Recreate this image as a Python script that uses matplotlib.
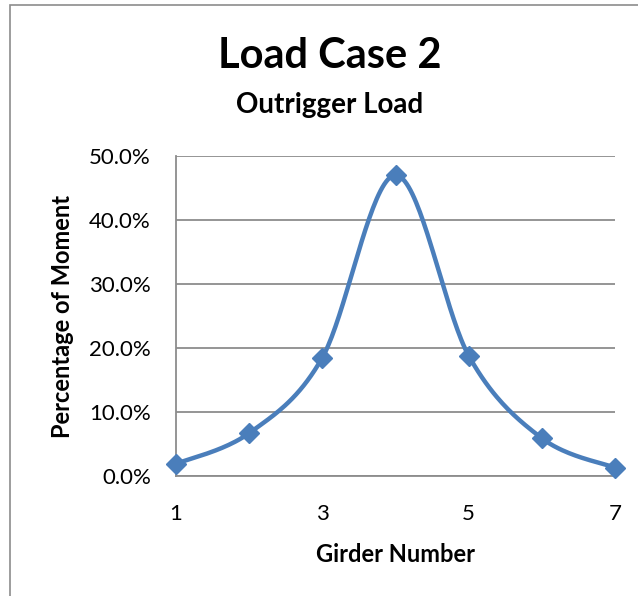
import matplotlib
matplotlib.use("Agg")
import matplotlib.pyplot as plt
import numpy as np
from matplotlib.patches import Rectangle
from matplotlib.ticker import PercentFormatter

plt.rcParams["font.family"] = ["Lato", "DejaVu Sans"]

# data
girders = [1, 2, 3, 4, 5, 6, 7]
pct_moment = [1.9, 6.7, 18.5, 47.0, 18.8, 5.9, 1.3]
x_ticks = [1, 3, 5, 7]
y_ticks = [0, 10, 20, 30, 40, 50]


def smooth(xs, ys, n=40):
    # excel style smoothed line (catmull-rom as cubic bezier)
    p = np.column_stack([xs, ys]).astype(float)
    p = np.vstack([p[0], p, p[-1]])
    out = []
    t = np.linspace(0, 1, n)[:, None]
    for i in range(1, len(p) - 2):
        p0, p1, p2, p3 = p[i - 1], p[i], p[i + 1], p[i + 2]
        c1 = p1 + (p2 - p0) / 6
        c2 = p2 - (p3 - p1) / 6
        seg = (1 - t) ** 3 * p1 + 3 * (1 - t) ** 2 * t * c1 + 3 * (1 - t) * t ** 2 * c2 + t ** 3 * p2
        out.append(seg)
    out = np.vstack(out)
    return out[:, 0], out[:, 1]


fig = plt.figure(figsize=(6.38, 5.96), dpi=100)
fig.patches.append(Rectangle((10 / 638, -0.01), 1.0, 1 - 5 / 596 + 0.01,
                             transform=fig.transFigure, fill=False,
                             edgecolor="#8c8c8c", linewidth=1.2))

ax = fig.add_axes([176 / 638, 1 - 476 / 596, 439 / 638, 320 / 596])
color = "#4a7ebb"
sx, sy = smooth(girders, pct_moment)
ax.plot(sx, sy, color=color, linewidth=3.2, solid_capstyle="round", clip_on=False, zorder=3)
ax.plot(girders, pct_moment, linestyle="none", marker="D", markersize=10,
        color=color, clip_on=False, zorder=4)

ax.set_xlim(1, 7)
ax.set_ylim(0, 50)
ax.set_xticks(x_ticks)
ax.set_yticks(y_ticks)
ax.yaxis.set_major_formatter(PercentFormatter(decimals=1))
ax.tick_params(length=0, labelsize=16)
ax.tick_params(axis="y", pad=18)
ax.tick_params(axis="x", pad=20)
ax.grid(axis="y", color="#8c8c8c", linewidth=1.3)
ax.set_axisbelow(True)
for side in ["top", "right"]:
    ax.spines[side].set_visible(False)
for side in ["left", "bottom"]:
    ax.spines[side].set_color("#8c8c8c")
    ax.spines[side].set_linewidth(1.3)

ax.set_xlabel("Girder Number", fontsize=17, fontweight="bold", labelpad=14)
ax.set_ylabel("Percentage of Moment", fontsize=17, fontweight="bold", labelpad=11)

fig.text(330 / 638, 1 - 56 / 596, "Load Case 2", fontsize=30, fontweight="bold",
         ha="center", va="center")
fig.text(330 / 638, 1 - 105 / 596, "Outrigger Load", fontsize=20, fontweight="bold",
         ha="center", va="center")

fig.savefig("out.png", dpi=100)
